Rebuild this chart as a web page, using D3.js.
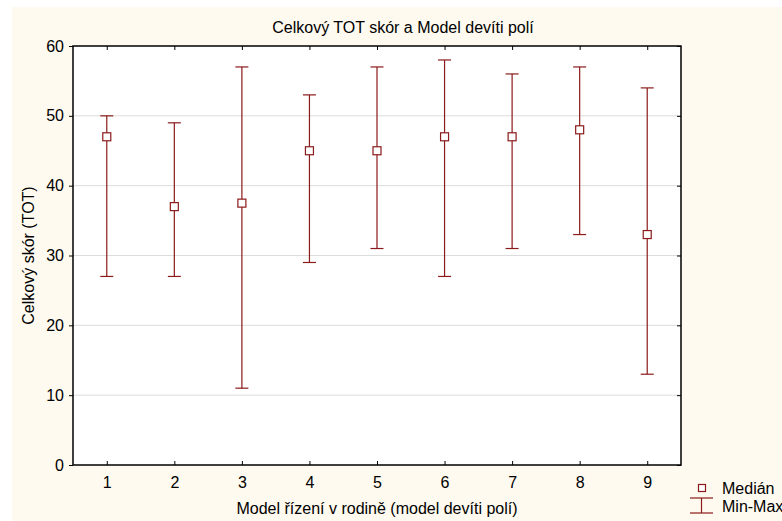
<!DOCTYPE html>
<html>
<head>
<meta charset="utf-8">
<script src="https://cdn.jsdelivr.net/npm/d3@7"></script>
<style>
  body { margin: 0; background: #ffffff; }
  svg text { font-family: "Liberation Sans", Arial, sans-serif; fill: #000; }
</style>
</head>
<body>
<div id="chart"></div>
<script>
// data
var groups = [1, 2, 3, 4, 5, 6, 7, 8, 9];
var medians = [47, 37, 37.5, 45, 45, 47, 47, 48, 33];
var mins = [27, 27, 11, 29, 31, 27, 31, 33, 13];
var maxs = [50, 49, 57, 53, 57, 58, 56, 57, 54];
var yTicks = [0, 10, 20, 30, 40, 50, 60];

var width = 782;
var height = 521;
var margin = { top: 46, right: 101, bottom: 56, left: 73 };
var red = "#8b1a1a";

var svg = d3.select("#chart")
            .append("svg")
            .attr("width", width)
            .attr("height", height);

// cream panel
svg.append("rect")
   .attr("x", 12).attr("y", 7)
   .attr("width", width - 12).attr("height", height - 7)
   .attr("fill", "#fefaef");

var x = d3.scaleLinear()
          .domain([0.5, 9.5])
          .range([margin.left, width - margin.right]);

var y = d3.scaleLinear()
          .domain([0, 60])
          .range([height - margin.bottom, margin.top]);

// plot area
svg.append("rect")
   .attr("x", x(0.5)).attr("y", y(60))
   .attr("width", x(9.5) - x(0.5)).attr("height", y(0) - y(60))
   .attr("fill", "#ffffff");

// grid lines
svg.selectAll(".grid")
   .data(yTicks.filter(function(d) { return d > 0 && d < 60; }))
   .enter()
   .append("line")
   .attr("class", "grid")
   .attr("x1", x(0.5)).attr("x2", x(9.5))
   .attr("y1", function(d) { return y(d); })
   .attr("y2", function(d) { return y(d); })
   .attr("stroke", "#dcdcdc")
   .attr("stroke-width", 1);

// axes
var xAxis = svg.append("g")
   .attr("transform", "translate(0," + y(0) + ")")
   .call(d3.axisBottom(x).tickValues(groups).tickSize(-4).tickPadding(12).tickFormat(d3.format("d")));

var xTop = svg.append("g")
   .attr("transform", "translate(0," + y(60) + ")")
   .call(d3.axisTop(x).tickValues(groups).tickSize(-4).tickFormat(""));

var yAxis = svg.append("g")
   .attr("transform", "translate(" + x(0.5) + ",0)")
   .call(d3.axisLeft(y).tickValues(yTicks).tickSize(4).tickPadding(5));

var yRight = svg.append("g")
   .attr("transform", "translate(" + x(9.5) + ",0)")
   .call(d3.axisRight(y).tickValues(yTicks).tickSize(-4).tickFormat(""));

[xAxis, xTop, yAxis, yRight].forEach(function(g) {
    g.select(".domain").remove();
    g.selectAll(".tick line").attr("stroke", "#000").attr("stroke-width", 1);
    g.selectAll("text").attr("font-size", 16).attr("fill", "#000");
});

// frame
svg.append("rect")
   .attr("x", x(0.5)).attr("y", y(60))
   .attr("width", x(9.5) - x(0.5)).attr("height", y(0) - y(60))
   .attr("fill", "none")
   .attr("stroke", "#000")
   .attr("stroke-width", 1.5);

// whiskers
var capW = 6.5;
var bars = svg.selectAll(".bar")
   .data(groups)
   .enter()
   .append("g")
   .attr("class", "bar");

bars.append("line")
    .attr("x1", function(d) { return x(d); })
    .attr("x2", function(d) { return x(d); })
    .attr("y1", function(d, i) { return y(mins[i]); })
    .attr("y2", function(d, i) { return y(maxs[i]); })
    .attr("stroke", red).attr("stroke-width", 1.2);

bars.append("line")
    .attr("x1", function(d) { return x(d) - capW; })
    .attr("x2", function(d) { return x(d) + capW; })
    .attr("y1", function(d, i) { return y(maxs[i]); })
    .attr("y2", function(d, i) { return y(maxs[i]); })
    .attr("stroke", red).attr("stroke-width", 1.2);

bars.append("line")
    .attr("x1", function(d) { return x(d) - capW; })
    .attr("x2", function(d) { return x(d) + capW; })
    .attr("y1", function(d, i) { return y(mins[i]); })
    .attr("y2", function(d, i) { return y(mins[i]); })
    .attr("stroke", red).attr("stroke-width", 1.2);

// median squares
bars.append("rect")
    .attr("x", function(d) { return x(d) - 4; })
    .attr("y", function(d, i) { return y(medians[i]) - 4; })
    .attr("width", 8).attr("height", 8)
    .attr("fill", "#ffffff")
    .attr("stroke", red).attr("stroke-width", 1.2);

// titles
svg.append("text")
   .attr("x", 403).attr("y", 33)
   .attr("text-anchor", "middle")
   .attr("font-size", 16)
   .text("Celkový TOT skór a Model devíti polí");

svg.append("text")
   .attr("x", (x(0.5) + x(9.5)) / 2).attr("y", 514)
   .attr("text-anchor", "middle")
   .attr("font-size", 16)
   .text("Model řízení v rodině (model devíti polí)");

svg.append("text")
   .attr("transform", "translate(34," + (y(0) + y(60)) / 2 + ") rotate(-90)")
   .attr("text-anchor", "middle")
   .attr("font-size", 16)
   .text("Celkový skór (TOT)");

// legend
svg.append("rect")
   .attr("x", 698.5).attr("y", 484.5)
   .attr("width", 7).attr("height", 7)
   .attr("fill", "#ffffff")
   .attr("stroke", red).attr("stroke-width", 1.2);
svg.append("text").attr("x", 722).attr("y", 494).attr("font-size", 16).text("Medián");

svg.append("line").attr("x1", 690).attr("x2", 713).attr("y1", 498).attr("y2", 498)
   .attr("stroke", red).attr("stroke-width", 1.2);
svg.append("line").attr("x1", 690).attr("x2", 713).attr("y1", 513).attr("y2", 513)
   .attr("stroke", red).attr("stroke-width", 1.2);
svg.append("line").attr("x1", 701.5).attr("x2", 701.5).attr("y1", 498).attr("y2", 513)
   .attr("stroke", red).attr("stroke-width", 1.2);
svg.append("text").attr("x", 722).attr("y", 512).attr("font-size", 16).text("Min-Max");
</script>
</body>
</html>
